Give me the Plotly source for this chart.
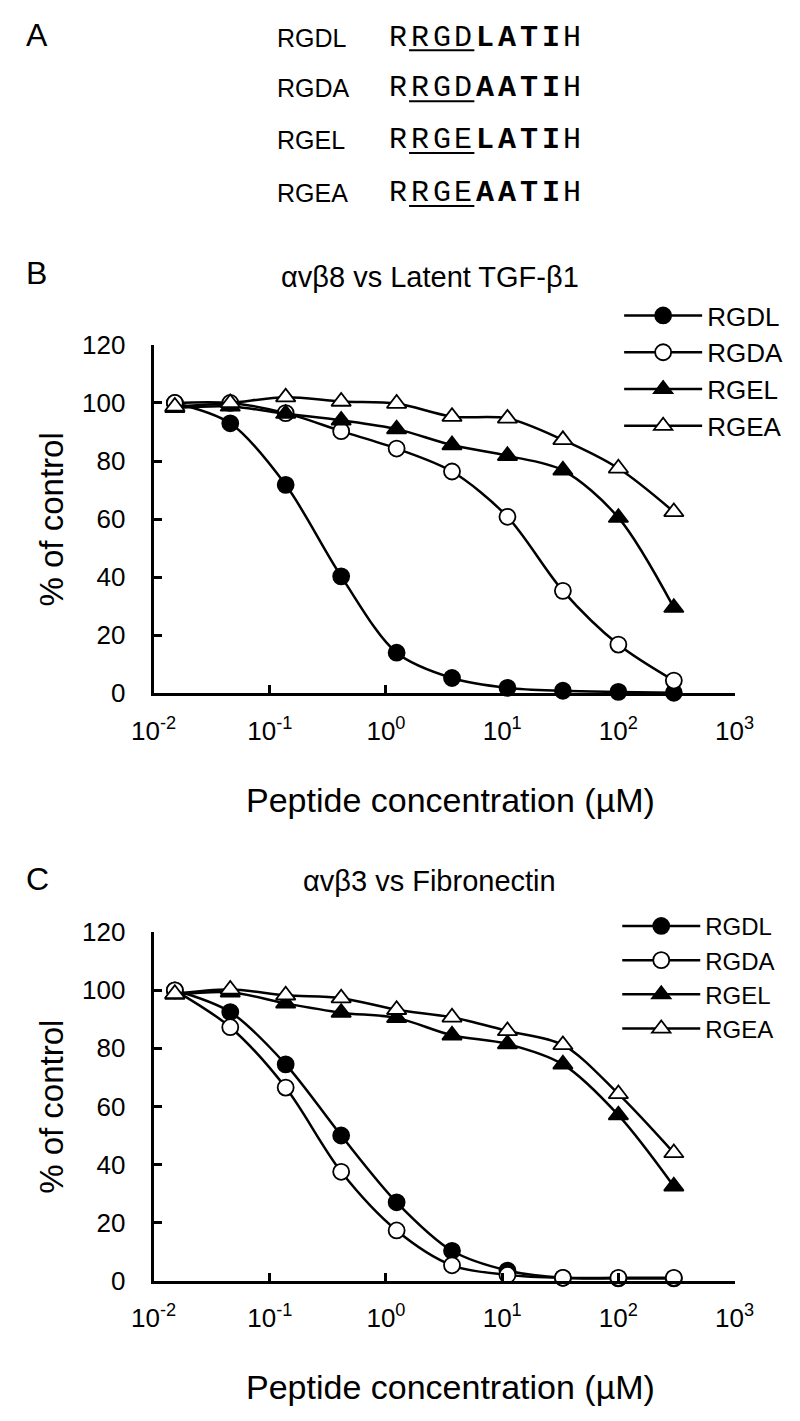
import plotly.graph_objects as go

W, H = 800, 1421

# ---------------- data ----------------
conc = [0.01524, 0.0457, 0.137, 0.4115, 1.235, 3.70, 11.1, 33.3, 100, 300]
series_names = ["RGDL", "RGDA", "RGEL", "RGEA"]

b_rgdl = [100, 93, 71.8, 40.3, 14.0, 5.3, 1.9, 0.9, 0.5, 0.2]
b_rgda = [100, 100, 96.5, 90.3, 84.3, 76.4, 60.8, 35.3, 16.8, 4.4]
b_rgel = [98.3, 98.8, 96.3, 94.0, 91.0, 85.5, 81.8, 76.8, 60.5, 29.5]
b_rgea = [98.8, 100, 102, 100.5, 99.8, 95.3, 94.7, 87.3, 77.5, 62.5]

c_rgdl = [100, 92.5, 74.5, 50.0, 27.0, 10.3, 3.5, 1.0, 0.8, 0.8]
c_rgda = [100, 87.3, 66.5, 37.5, 17.3, 5.3, 2.0, 1.0, 1.0, 1.0]
c_rgel = [98.5, 99.3, 95.5, 92.3, 90.5, 84.5, 81.5, 74.5, 57.0, 32.5]
c_rgea = [98.8, 100.3, 98.3, 97.3, 93.3, 90.7, 86.0, 81.2, 64.3, 44.0]

x_tickvals = [0.01, 0.1, 1, 10, 100, 1000]
x_ticktext = ["10<sup>-2</sup>", "10<sup>-1</sup>", "10<sup>0</sup>",
              "10<sup>1</sup>", "10<sup>2</sup>", "10<sup>3</sup>"]
y_tickvals = [0, 20, 40, 60, 80, 100, 120]

peptide_labels = ["RGDL", "RGDA", "RGEL", "RGEA"]
peptide_seqs = ["RRGDLATIH", "RRGDAATIH", "RRGELATIH", "RRGEAATIH"]

title_b = "αvβ8 vs Latent TGF-β1"
title_c = "αvβ3 vs Fibronectin"
x_title = "Peptide concentration (µM)"
y_title = "% of control"

# ---------------- helpers ----------------
def px(p):
    return p / W

def py(p):
    return 1 - p / H

FONT = "Liberation Sans, Arial, sans-serif"
MONO = "Liberation Mono, Courier New, monospace"

styles = {
    "RGDL": dict(symbol="circle", color="black", size=16),
    "RGDA": dict(symbol="circle", color="white", size=16),
    "RGEL": dict(symbol="triangle-up", color="black", size=17),
    "RGEA": dict(symbol="triangle-up", color="white", size=17),
}

fig = go.Figure()

def add_panel(values, xa, ya, legend_name):
    for name, vals in zip(series_names, values):
        st = styles[name]
        fig.add_trace(go.Scatter(
            x=conc, y=vals, name=name, mode="lines+markers",
            xaxis=xa, yaxis=ya, legend=legend_name,
            line=dict(color="black", width=2.5, shape="spline", smoothing=0.9),
            marker=dict(symbol=st["symbol"], size=st["size"], color=st["color"],
                        line=dict(color="black", width=1.8)),
            cliponaxis=False,
        ))

add_panel([b_rgdl, b_rgda, b_rgel, b_rgea], "x", "y", "legend")
add_panel([c_rgdl, c_rgda, c_rgel, c_rgea], "x2", "y2", "legend2")

xdom = [px(138), px(752)]
common_x = dict(type="log", range=[-2, 3], tickvals=x_tickvals, ticktext=x_ticktext,
                ticks="inside", ticklen=8, tickwidth=3, tickcolor="black",
                showline=True, linewidth=3, linecolor="black", showgrid=False,
                zeroline=False, tickfont=dict(family=FONT, size=26, color="black"),
                ticklabelstandoff=12, domain=xdom)
common_y = dict(range=[0, 120], tickvals=y_tickvals,
                ticks="inside", ticklen=8, tickwidth=3, tickcolor="black",
                showline=True, linewidth=3, linecolor="black", showgrid=False,
                zeroline=False, tickfont=dict(family=FONT, size=26, color="black"),
                ticklabelstandoff=20)

fig.update_layout(
    width=W, height=H, margin=dict(l=0, r=0, t=0, b=0),
    paper_bgcolor="white", plot_bgcolor="white",
    font=dict(family=FONT, color="black"),
    xaxis=dict(**common_x, anchor="y"),
    yaxis=dict(**common_y, domain=[py(693), py(337)], anchor="x"),
    xaxis2=dict(**common_x, anchor="y2"),
    yaxis2=dict(**common_y, domain=[py(1293), py(937)], anchor="x2"),
    legend=dict(x=px(630), y=py(283), xanchor="left", yanchor="top",
                font=dict(family=FONT, size=26, color="black"),
                bgcolor="rgba(0,0,0,0)", itemwidth=78, tracegroupgap=0),
    legend2=dict(x=px(628), y=py(908), xanchor="left", yanchor="top",
                 font=dict(family=FONT, size=24, color="black"),
                 bgcolor="rgba(0,0,0,0)", itemwidth=78, tracegroupgap=0),
    showlegend=True,
)

ann = []
shapes = []

def text(x, y, s, size, family=FONT, xanchor="center", textangle=0):
    ann.append(dict(x=px(x), y=py(y), xref="paper", yref="paper", text=s,
                    showarrow=False, xanchor=xanchor, yanchor="middle",
                    font=dict(family=family, size=size, color="black"),
                    textangle=textangle))

# panel letters
text(1, 20, "A", 32, xanchor="left")
text(1, 264, "B", 32, xanchor="left")
text(1, 883, "C", 32, xanchor="left")

# panel A: peptide sequences
row_y = [23, 75, 128, 182]
char_w = 23
seq_x0 = 385
for lab, seq, yy in zip(peptide_labels, peptide_seqs, row_y):
    text(266, yy, lab, 25, xanchor="left")
    for i, ch in enumerate(seq):
        s = f"<b>{ch}</b>" if 4 <= i <= 7 else ch
        text(seq_x0 + char_w * i + char_w / 2, yy, s, 30, family=MONO)
    shapes.append(dict(type="line", xref="paper", yref="paper",
                       x0=px(seq_x0 + char_w), x1=px(seq_x0 + char_w * 4),
                       y0=py(yy + 13), y1=py(yy + 13),
                       line=dict(color="black", width=2)))

# titles
text(430, 268, title_b, 29)
text(430, 885, title_c, 29)
text(452, 802, x_title, 34)
text(452, 1402, x_title, 34)
text(30, 515, y_title, 33, textangle=-90)
text(30, 1115, y_title, 33, textangle=-90)

fig.update_layout(annotations=ann, shapes=shapes)

fig.write_html("out.html", config={"displayModeBar": False},
               post_script="document.body.style.margin='0';")
